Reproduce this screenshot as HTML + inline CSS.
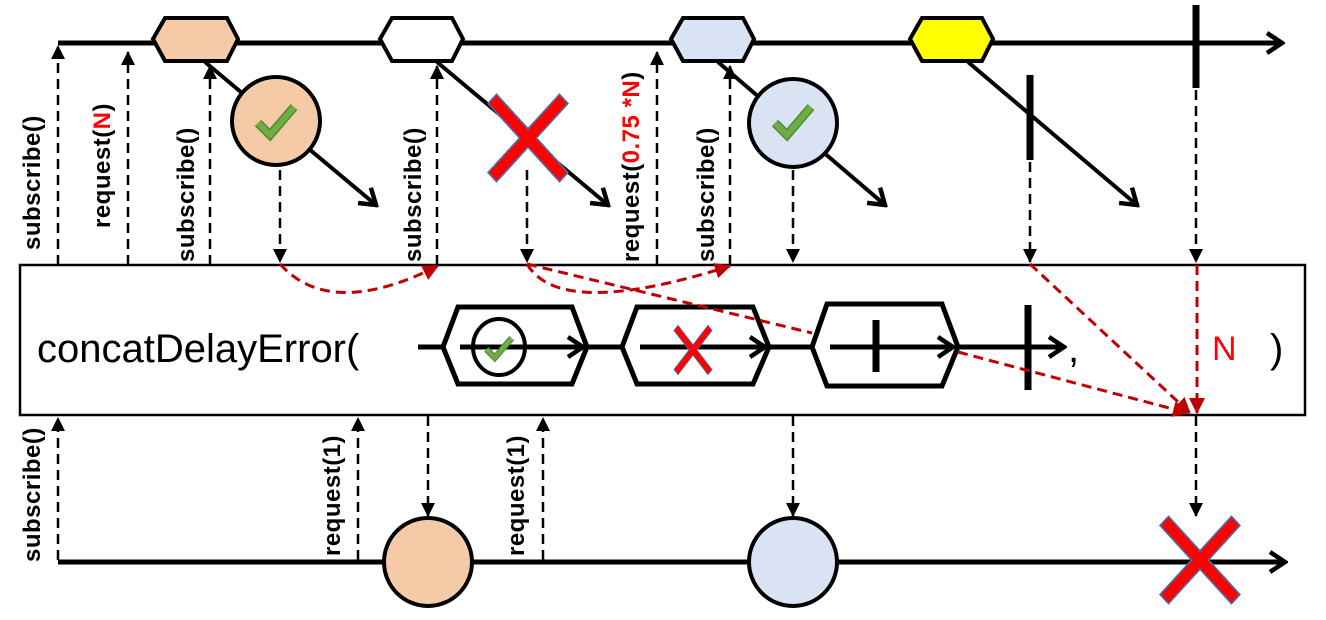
<!DOCTYPE html>
<html><head><meta charset="utf-8"><style>
html,body{margin:0;padding:0;background:#fff;width:1326px;height:620px;overflow:hidden}
text{font-family:"Liberation Sans",sans-serif}
.lbl{font-weight:bold;font-size:24px;letter-spacing:0.5px;fill:#000}
</style></head><body>
<svg width="1326" height="620" viewBox="0 0 1326 620" xmlns="http://www.w3.org/2000/svg">
<defs>
<marker id="ab" markerWidth="14" markerHeight="20" refX="13" refY="7" orient="auto" markerUnits="userSpaceOnUse"><path d="M0,0 L14,7 L0,14 Z" fill="#000"/></marker>
<marker id="ar" markerWidth="16" markerHeight="16" refX="15" refY="8" orient="auto" markerUnits="userSpaceOnUse"><path d="M0,0 L16,8 L0,16 Z" fill="#c00000"/></marker>
<marker id="op" markerWidth="20" markerHeight="24" refX="17" refY="12" orient="auto" markerUnits="userSpaceOnUse"><path d="M2,2 L17,12 L2,22" fill="none" stroke="#000" stroke-width="4.5"/></marker>
<g id="X"><polygon points="-30,-38 -38,-30 -8,0 -38,30 -30,38 0,8 30,38 38,30 8,0 38,-30 30,-38 0,-8" fill="#f00" stroke="#4a6fa5" stroke-width="1.5"/></g>
<g id="chk"><polyline points="-18,2 -6,14 18,-14" fill="none" stroke="#4e8a2e" stroke-width="9"/><polyline points="-18,2 -6,14 18,-14" fill="none" stroke="#70ad47" stroke-width="6"/></g>
</defs>

<line x1="58" y1="43" x2="1282" y2="43" stroke="#000" stroke-width="5" marker-end="url(#op)"/>
<g stroke="#000" stroke-width="4" fill="none">
<line x1="205" y1="62" x2="376" y2="205" marker-end="url(#op)"/>
<line x1="437" y1="62" x2="608" y2="205" marker-end="url(#op)"/>
<line x1="718" y1="62" x2="885" y2="205" marker-end="url(#op)"/>
<line x1="968" y1="62" x2="1137" y2="205" marker-end="url(#op)"/>
</g>
<g stroke="#000" stroke-width="4">
<polygon points="153,39 165,18 227,18 238,39 227,61 165,61" fill="#f5cba7"/>
<polygon points="380,39 392,18 452,18 463,39 452,61 392,61" fill="#fff"/>
<polygon points="671,39 683,18 743,18 754,39 743,61 683,61" fill="#dae3f3"/>
<polygon points="910,39 922,18 982,18 993,39 982,61 922,61" fill="#ff0"/>
</g>
<line x1="1196" y1="5" x2="1196" y2="88" stroke="#000" stroke-width="7"/>
<line x1="1030" y1="75" x2="1030" y2="160" stroke="#000" stroke-width="7"/>
<ellipse cx="276" cy="121" rx="44" ry="44" fill="#f5cba7" stroke="#000" stroke-width="4"/>
<use href="#chk" x="276" y="121"/>
<ellipse cx="793" cy="123" rx="44" ry="44" fill="#dae3f3" stroke="#000" stroke-width="4"/>
<use href="#chk" x="793" y="121"/>
<g transform="translate(528,138) scale(1.05,1.15)"><use href="#X"/></g>

<g stroke="#000" stroke-width="2.5" stroke-dasharray="10,6" fill="none">
<line x1="58" y1="265" x2="58" y2="46" marker-end="url(#ab)"/>
<line x1="128" y1="265" x2="128" y2="52" marker-end="url(#ab)"/>
<line x1="210" y1="265" x2="210" y2="66" marker-end="url(#ab)"/>
<line x1="437" y1="265" x2="437" y2="66" marker-end="url(#ab)"/>
<line x1="657" y1="265" x2="657" y2="52" marker-end="url(#ab)"/>
<line x1="730" y1="265" x2="730" y2="66" marker-end="url(#ab)"/>
<line x1="280" y1="170" x2="280" y2="262" marker-end="url(#ab)"/>
<line x1="527" y1="170" x2="527" y2="262" marker-end="url(#ab)"/>
<line x1="793" y1="170" x2="793" y2="262" marker-end="url(#ab)"/>
<line x1="1030" y1="162" x2="1030" y2="262" marker-end="url(#ab)"/>
<line x1="1196" y1="90" x2="1196" y2="262" marker-end="url(#ab)"/>
<line x1="58" y1="560" x2="58" y2="418" marker-end="url(#ab)"/>
<line x1="358" y1="560" x2="358" y2="418" marker-end="url(#ab)"/>
<line x1="543" y1="560" x2="543" y2="418" marker-end="url(#ab)"/>
<line x1="428" y1="416" x2="428" y2="516" marker-end="url(#ab)"/>
<line x1="793" y1="416" x2="793" y2="516" marker-end="url(#ab)"/>
<line x1="1196" y1="416" x2="1196" y2="516" marker-end="url(#ab)"/>
</g>

<text transform="translate(40,250) rotate(-90)" class="lbl">subscribe()</text>
<text transform="translate(110,228) rotate(-90)" class="lbl">request(<tspan fill="#f00">N</tspan>)</text>
<text transform="translate(194,262) rotate(-90)" class="lbl">subscribe()</text>
<text transform="translate(421,262) rotate(-90)" class="lbl">subscribe()</text>
<text transform="translate(639,262) rotate(-90)" class="lbl">request(<tspan fill="#f00">0.75 *N</tspan>)</text>
<text transform="translate(714,262) rotate(-90)" class="lbl">subscribe()</text>
<text transform="translate(40,562) rotate(-90)" class="lbl">subscribe()</text>
<text transform="translate(340,556) rotate(-90)" class="lbl">request(1)</text>
<text transform="translate(524,556) rotate(-90)" class="lbl">request(1)</text>

<rect x="20" y="265" width="1285" height="150" fill="#fff" stroke="#000" stroke-width="2.5"/>
<text x="37" y="362" font-size="40" fill="#000">concatDelayError(</text>
<text x="1068" y="362" font-size="40" fill="#000">,</text>
<text x="1212" y="360" font-size="34" fill="#f00">N</text>
<text x="1270" y="362" font-size="40" fill="#000">)</text>

<line x1="418" y1="347" x2="1064" y2="347" stroke="#000" stroke-width="5" marker-end="url(#op)"/>
<g stroke="#000" stroke-width="5" fill="#fff">
<polygon points="443,347 458,307 572,307 587,347 572,384 458,384"/>
<polygon points="622,347 637,307 753,307 769,347 753,384 637,384"/>
<polygon points="812,347 827,304 942,304 958,347 942,386 827,386"/>
</g>
<g stroke="#000" stroke-width="5" fill="none">
<line x1="460" y1="347" x2="583" y2="347" marker-end="url(#op)"/>
<line x1="640" y1="347" x2="765" y2="347" marker-end="url(#op)"/>
<line x1="830" y1="347" x2="953" y2="347" marker-end="url(#op)"/>
</g>
<ellipse cx="499" cy="347" rx="26" ry="28" fill="#fff" stroke="#000" stroke-width="4"/>
<line x1="470" y1="347" x2="528" y2="347" stroke="#000" stroke-width="5"/>
<g transform="translate(499,348) scale(0.7)"><use href="#chk"/></g>
<g transform="translate(693,350) scale(0.5,0.65)"><use href="#X"/></g>
<line x1="876" y1="320" x2="876" y2="372" stroke="#000" stroke-width="7"/>
<line x1="1028" y1="305" x2="1028" y2="390" stroke="#000" stroke-width="7"/>

<g stroke="#c00000" stroke-width="3" stroke-dasharray="10,6" fill="none">
<path d="M280,264 Q330,320 438,266" marker-end="url(#ar)"/>
<path d="M527,264 Q560,320 730,266" marker-end="url(#ar)"/>
<path d="M527,264 L812,333"/>
<path d="M1030,264 L1190,413" marker-end="url(#ar)"/>
<path d="M958,352 L1188,413" marker-end="url(#ar)"/>
<path d="M1197,265 L1197,413" marker-end="url(#ar)"/>
</g>

<line x1="58" y1="562" x2="1285" y2="562" stroke="#000" stroke-width="5" marker-end="url(#op)"/>
<ellipse cx="428" cy="562" rx="44" ry="44" fill="#f5cba7" stroke="#000" stroke-width="4"/>
<ellipse cx="793" cy="562" rx="44" ry="44" fill="#dae3f3" stroke="#000" stroke-width="4"/>
<g transform="translate(1200,560) scale(1.05,1.15)"><use href="#X"/></g>
</svg>
</body></html>
